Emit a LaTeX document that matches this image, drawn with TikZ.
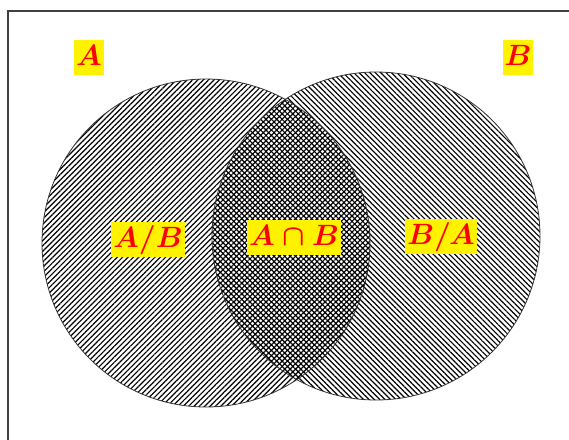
\documentclass[tikz,border=0pt]{standalone}
\usepackage{amsmath}
\usepackage{graphicx}
\usetikzlibrary{patterns.meta}
\definecolor{framegray}{RGB}{64,64,64}
\newcommand{\setname}[1]{\scalebox{1.18}{$\boldsymbol{#1}$}}
\tikzset{
  setlabel/.style={fill=yellow, text=red, inner xsep=2pt, inner ysep=5.5pt,
    text height=20pt, text depth=4pt, font=\fontsize{24.88}{30}\selectfont},
  hatchA/.style={pattern={Lines[angle=45, distance=3.8pt, line width=1.2pt]}, pattern color=black},
  hatchB/.style={pattern={Lines[angle=-45, distance=3.8pt, line width=1.2pt]}, pattern color=black},
  setcircle/.style={circle, draw=black!80, line width=0.8pt, minimum size=328pt, inner sep=0pt}
}
\begin{document}
\begin{tikzpicture}[x=1pt, y=-1pt]
  \useasboundingbox (0,0) rectangle (569,439);
  % frame (left and top edges)
  \coordinate (fbl) at (7.5,445);
  \coordinate (ftl) at (7.5,10.5);
  \coordinate (ftr) at (575,10.5);
  \draw[framegray, line width=2pt] (fbl) -- (ftl) -- (ftr);
  % hatched set regions
  \fill[hatchA] (206,243) circle[radius=164];
  \fill[hatchB] (376,236) circle[radius=164];
  % set outlines
  \node[setcircle] (A) at (206,243) {};
  \node[setcircle] (B) at (376,236) {};
  % labels
  \node[setlabel] (la) at (89,57) {\setname{A}};
  \node[setlabel] (lb) at (518,57) {\setname{B}};
  \node[setlabel] (lab) at (148,239) {\setname{A/B}};
  \node[setlabel] (lint) at (294,237) {\setname{A\cap B}};
  \node[setlabel] (lba) at (441,236) {\setname{B/A}};
\end{tikzpicture}
\end{document}
